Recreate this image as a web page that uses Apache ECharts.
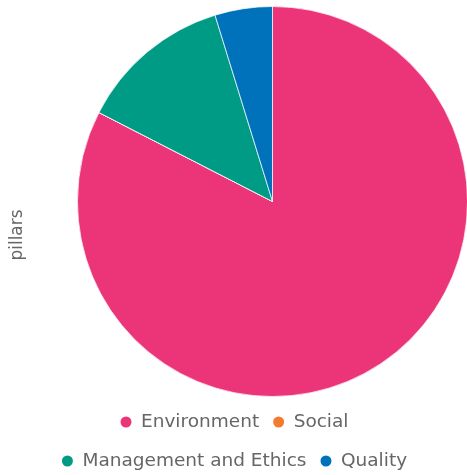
<!DOCTYPE html>
<html>
<head>
<meta charset="utf-8">
<script src="https://cdn.jsdelivr.net/npm/echarts@6/dist/echarts.min.js"></script>
<style>html,body{margin:0;padding:0;background:#fff}#c{width:467px;height:475px}</style>
</head>
<body>
<div id="c"></div>
<script>
var categories = ['Environment', 'Social', 'Management and Ethics', 'Quality'];
var values = [52, 0, 8, 3];
var colors = ['#EC3479', '#F47A30', '#009B84', '#0072BC'];
var axisName = 'pillars';

var chart = echarts.init(document.getElementById('c'));
var data = categories.map(function (c, i) { return { name: c, value: values[i], itemStyle: { color: colors[i] } }; });
var legendBase = {
  left: 'center', icon: 'circle', itemWidth: 20, itemHeight: 13, itemGap: 12,
  padding: [0, 0, 0, 17],
  textStyle: { color: '#666', fontSize: 18.5, fontFamily: 'DejaVu Sans', lineHeight: 20 },
  selectedMode: false
};
chart.setOption({
  animation: false,
  legend: [
    Object.assign({}, legendBase, { top: 412, data: categories.slice(0, 2) }),
    Object.assign({}, legendBase, { top: 451, data: categories.slice(2, 4) })
  ],
  graphic: [{
    type: 'text', x: 18, y: 235, rotation: Math.PI / 2,
    style: { text: axisName, fill: '#666', fontSize: 17, fontFamily: 'DejaVu Sans', textAlign: 'center', textVerticalAlign: 'middle' }
  }],
  series: [{
    type: 'pie', center: [272.5, 201.5], radius: 195, startAngle: 90, clockwise: true,
    label: { show: false }, labelLine: { show: false },
    itemStyle: { borderColor: '#fff', borderWidth: 0.7 },
    emphasis: { disabled: true },
    data: data
  }]
});
</script>
</body>
</html>
